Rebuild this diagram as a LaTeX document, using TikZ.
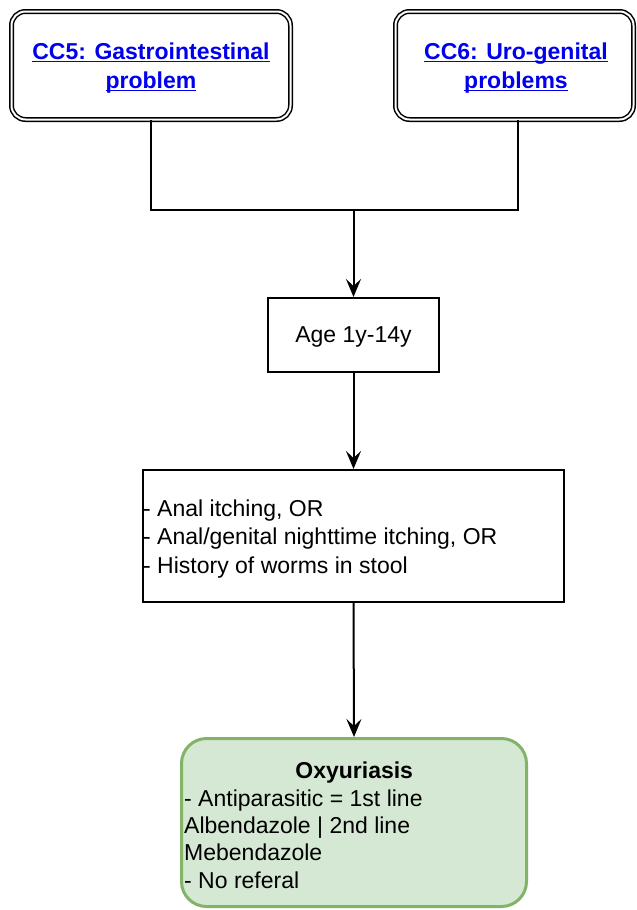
\documentclass[tikz,border=0pt]{standalone}
\usepackage{fontspec}
\setmainfont{Liberation Sans}
\usetikzlibrary{arrows.meta}
\definecolor{linkblue}{HTML}{0000EE}
\definecolor{okfill}{HTML}{D5E8D4}
\definecolor{okline}{HTML}{82B366}
% underline at a fixed depth below the baseline
\newcommand\linkline[1]{\setbox0\hbox{#1}\rlap{\rule[-3pt]{\wd0}{1.6pt}}\box0}
\begin{document}
\begin{tikzpicture}[x=1pt,y=-1pt,
  every node/.style={font=\fontsize{23pt}{28pt}\selectfont, inner sep=0pt},
  ccbox/.style={draw=black, double=white, line width=1.5pt, double distance=2pt,
    rounded corners=14pt, fill=white, minimum height=108pt},
  cclabel/.style={align=center, text=linkblue,
    font=\fontsize{23pt}{29pt}\selectfont\bfseries},
  plainbox/.style={draw=black, line width=2pt, fill=white},
  okbox/.style={draw=okline, fill=okfill, line width=3pt, rounded corners=25pt},
  link/.style={line width=2pt, draw=black},
  arrow/.style={link, -{Stealth[length=18pt, width=15pt, inset=7pt]}}
]
\useasboundingbox (0,0) rectangle (637,910);

% chief complaint boxes
\node[ccbox, minimum width=279pt] (cc5) at (151,65.5) {};
\node[cclabel] (cc5text) at (151,68)
  {\linkline{CC5: Gastrointestinal}\\\linkline{problem}};
\node[ccbox, minimum width=238pt] (cc6) at (514.5,65.5) {};
\node[cclabel] (cc6text) at (516,68)
  {\linkline{CC6: Uro-genital}\\\linkline{problems}};

% age filter
\node[plainbox, minimum width=171pt, minimum height=74pt] (age) at (353.5,335) {};
\node (agetext) at (353.5,337) {Age 1y-14y};

% symptom criteria
\node[plainbox, minimum width=421pt, minimum height=132pt] (sym) at (353.5,536) {};
\node[anchor=west, align=left, font=\fontsize{23pt}{28.5pt}\selectfont]
  (symtext) at (143,539)
  {- Anal itching, OR\\- Anal/genital nighttime itching, OR\\- History of worms in stool};

% diagnosis and management
\node[okbox, minimum width=345pt, minimum height=168pt] (dx) at (354,822.5) {};
\node[anchor=north west, align=left, font=\fontsize{23pt}{27.3pt}\selectfont]
  (dxtext) at (184,762)
  {\makebox[340pt][c]{\bfseries Oxyuriasis}\\
   - Antiparasitic = 1st line\\
   Albendazole | 2nd line\\
   Mebendazole\\
   - No referal};

% connectors
\coordinate (join) at (353.5,210);
\draw[link] (cc5.south) |- (join) -| ([xshift=3.5pt]cc6.south);
\draw[arrow] (join) -- (age.north);
\draw[arrow] (age.south) -- (sym.north);
\draw[arrow] (sym.south) -- (dx.north);
\end{tikzpicture}
\end{document}
